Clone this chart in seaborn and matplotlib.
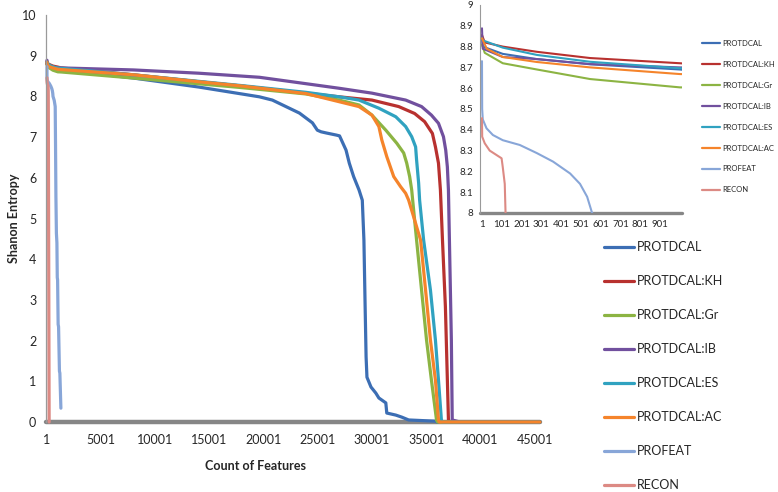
import matplotlib
matplotlib.use("Agg")
import matplotlib.pyplot as plt
from matplotlib.lines import Line2D
import seaborn as sns
import pandas as pd

# Shannon entropy curves (x = feature rank)
protdcal_x = [1, 5, 106, 278, 547, 1000, 1300, 8000, 14000, 19600, 20800, 23300, 24500, 24950,
              25300, 25800, 26700, 27000, 27600, 27900, 28300, 28800, 29100, 29250, 29350, 29450,
              29530, 29900, 30350, 30630, 31270, 31360, 32190, 32740, 33380, 35850, 36000, 45500]
protdcal_y = [8.85, 8.80, 8.765, 8.74, 8.715, 8.69, 8.66, 8.45, 8.23, 7.99, 7.91, 7.59, 7.35, 7.17,
              7.13, 7.10, 7.05, 7.03, 6.68, 6.36, 6.03, 5.70, 5.45, 4.47, 3.0, 1.6,
              1.1, 0.86, 0.71, 0.59, 0.47, 0.22, 0.17, 0.12, 0.05, 0.02, 0.0, 0.0]

kh_x = [1, 15, 106, 278, 547, 1000, 1300, 8000, 14000, 17800, 23900, 26960, 29990, 32460,
        33930, 34850, 35570, 35850, 36130, 36310, 36500, 36770, 37050, 37150, 45500]
kh_y = [8.856, 8.82, 8.80, 8.775, 8.745, 8.72, 8.70, 8.53, 8.36, 8.26, 8.08, 7.99, 7.91, 7.75,
        7.58, 7.38, 7.09, 6.76, 6.36, 5.70, 4.47, 2.83, 0.05, 0.0, 0.0]

gr_x = [1, 15, 106, 278, 547, 1000, 1300, 8000, 14000, 17800, 23900, 26960, 28790, 29990,
        31270, 32280, 32920, 33200, 33470, 33660, 33750, 34110, 34570, 35030, 35480, 35950,
        36050, 45500]
gr_y = [8.81, 8.77, 8.72, 8.69, 8.644, 8.604, 8.60, 8.45, 8.31, 8.22, 8.06, 7.91, 7.79, 7.54,
        7.17, 6.85, 6.61, 6.36, 6.03, 5.70, 5.45, 4.47, 3.24, 2.01, 1.03, 0.05,
        0.0, 0.0]

ib_x = [1, 5, 106, 278, 547, 1000, 1300, 8000, 14000, 19600, 26960, 29990, 33100, 34570,
        35480, 36130, 36590, 36800, 36950, 37050, 37140, 37320, 37400, 37960, 38050, 45500]
ib_y = [8.888, 8.79, 8.75, 8.74, 8.716, 8.70, 8.70, 8.65, 8.57, 8.47, 8.20, 8.08, 7.91, 7.75,
        7.54, 7.34, 7.01, 6.68, 6.27, 5.70, 4.47, 2.0, 0.05, 0.01, 0.0, 0.0]

es_x = [1, 5, 106, 278, 547, 1000, 1300, 8000, 14000, 17800, 23900, 26960, 28790, 30630,
        32190, 33100, 33660, 34020, 34110, 34300, 34390, 34760, 35390, 35850, 36130, 36400,
        36500, 45500]
es_y = [8.84, 8.83, 8.795, 8.76, 8.727, 8.696, 8.69, 8.53, 8.37, 8.27, 8.10, 7.99, 7.91, 7.71,
        7.50, 7.26, 7.01, 6.76, 6.44, 5.87, 5.45, 4.47, 3.24, 2.01, 1.03, 0.05,
        0.0, 0.0]

ac_x = [1, 25, 106, 278, 547, 1000, 1300, 8000, 14000, 17800, 23900, 26960, 28790, 29990,
        30630, 30900, 31360, 32000, 32640, 33100, 33380, 34480, 34940, 35390, 35850, 36130,
        36200, 45500]
ac_y = [8.84, 8.79, 8.75, 8.726, 8.70, 8.668, 8.66, 8.53, 8.36, 8.26, 8.07, 7.87, 7.75, 7.54,
        7.26, 6.93, 6.52, 6.03, 5.78, 5.62, 5.45, 4.47, 3.24, 2.01, 1.03, 0.05,
        0.0, 0.0]

profeat_x = [1, 2, 5, 24, 56, 106, 192, 278, 360, 446, 496, 532, 557, 670, 760, 790, 825,
             870, 917, 950, 980, 1030, 1070, 1150, 1190, 1284]
profeat_y = [8.73, 8.50, 8.45, 8.407, 8.375, 8.35, 8.327, 8.288, 8.247, 8.19, 8.14, 8.078, 8.0,
             7.9, 7.75, 6.8, 5.54, 4.64, 4.40, 3.55, 3.49, 2.4, 2.34, 1.25, 1.20, 0.34]

recon_x = [1, 2, 15, 40, 74, 100, 106, 116, 120, 140, 170, 200]
recon_y = [8.456, 8.367, 8.335, 8.30, 8.279, 8.263, 8.22, 8.14, 8.0, 6.0, 3.0, 0.0]

series = ["PROTDCAL", "PROTDCAL:KH", "PROTDCAL:Gr", "PROTDCAL:IB",
          "PROTDCAL:ES", "PROTDCAL:AC", "PROFEAT", "RECON"]
xs = [protdcal_x, kh_x, gr_x, ib_x, es_x, ac_x, profeat_x, recon_x]
ys = [protdcal_y, kh_y, gr_y, ib_y, es_y, ac_y, profeat_y, recon_y]
colors = ["#3C6EB4", "#B8312F", "#8CB443", "#71509E",
          "#30A2C0", "#F5842B", "#88A6D8", "#DC8A84"]
palette = dict(zip(series, colors))

df = pd.concat([pd.DataFrame({"Count": x, "Entropy": y, "Method": name})
                for name, x, y in zip(series, xs, ys)], ignore_index=True)

sns.set_style("white")
plt.rcParams["font.family"] = ["Lato", "DejaVu Sans"]

W, H = 778, 492
fig = plt.figure(figsize=(W / 100, H / 100), dpi=100)

def box(x0, y0, x1, y1):
    return [x0 / W, 1 - y1 / H, (x1 - x0) / W, (y1 - y0) / H]

# main chart
ax = fig.add_axes(box(46, 15, 540, 422))
ax.axhline(0, color="#868686", lw=3.2, zorder=1, clip_on=False)
sns.lineplot(data=df, x="Count", y="Entropy", hue="Method", hue_order=series,
             palette=palette, estimator=None, sort=False, lw=2.3, legend=False,
             ax=ax, zorder=2)
for ln in ax.get_lines()[1:]:
    ln.set_clip_on(False)
ax.set_xlim(-90, 45500)
ax.set_ylim(0, 10)
ax.set_xticks(range(1, 45002, 5000))
ax.set_yticks(range(0, 11))
ax.set_xlabel("")
ax.set_ylabel("")
for s in ["top", "right", "bottom"]:
    ax.spines[s].set_visible(False)
ax.spines["left"].set_color("#9a9a9a")
ax.spines["left"].set_linewidth(0.9)
ax.tick_params(axis="y", length=3.5, width=0.8, color="#9a9a9a", pad=3.5, labelsize=9)
ax.tick_params(axis="x", length=0, pad=9, labelsize=9)
ax.set_facecolor("none")

fig.text(14 / W, 1 - 218 / H, "Shanon Entropy", rotation=90, ha="center", va="center",
         fontsize=9, fontweight="bold")
fig.text(255 / W, 1 - 466 / H, "Count of Features", ha="center", va="center",
         fontsize=9, fontweight="bold")

# inset: first 1000 features zoomed
ins = fig.add_axes(box(480, 5, 682, 213))
ins.axhline(8, color="#868686", lw=2.4, zorder=1, clip_on=False)
sns.lineplot(data=df, x="Count", y="Entropy", hue="Method", hue_order=series,
             palette=palette, estimator=None, sort=False, lw=1.5, legend=False,
             ax=ins, zorder=2)
ins.set_xlim(-9, 1011)
ins.set_ylim(8, 9)
ins.set_xticks(range(1, 1000, 100))
ins.set_yticks([8 + i / 10 for i in range(11)])
ins.set_yticklabels([f"{8 + i / 10:g}" for i in range(11)])
ins.set_xlabel("")
ins.set_ylabel("")
for s in ["top", "right", "bottom"]:
    ins.spines[s].set_visible(False)
ins.spines["left"].set_color("#9a9a9a")
ins.spines["left"].set_linewidth(0.8)
ins.tick_params(axis="y", length=3, width=0.7, color="#9a9a9a", pad=2, labelsize=7)
ins.tick_params(axis="x", length=0, pad=5, labelsize=7)
ins.set_facecolor("none")

# legends
big = [Line2D([], [], color=c, lw=2.3) for c in colors]
fig.legend(big, series, loc="upper left", bbox_to_anchor=(604 / W, 1 - 241 / H),
           frameon=False, fontsize=9, handlelength=2.4, handletextpad=0.25,
           labelspacing=1.76, borderpad=0, borderaxespad=0)

small = [Line2D([], [], color=c, lw=1.6) for c in colors]
fig.legend(small, series, loc="upper left", bbox_to_anchor=(702 / W, 1 - 40 / H),
           frameon=False, fontsize=5.5, handlelength=2.4, handletextpad=0.2,
           labelspacing=1.82, borderpad=0, borderaxespad=0)

fig.savefig("out.png", dpi=100)
